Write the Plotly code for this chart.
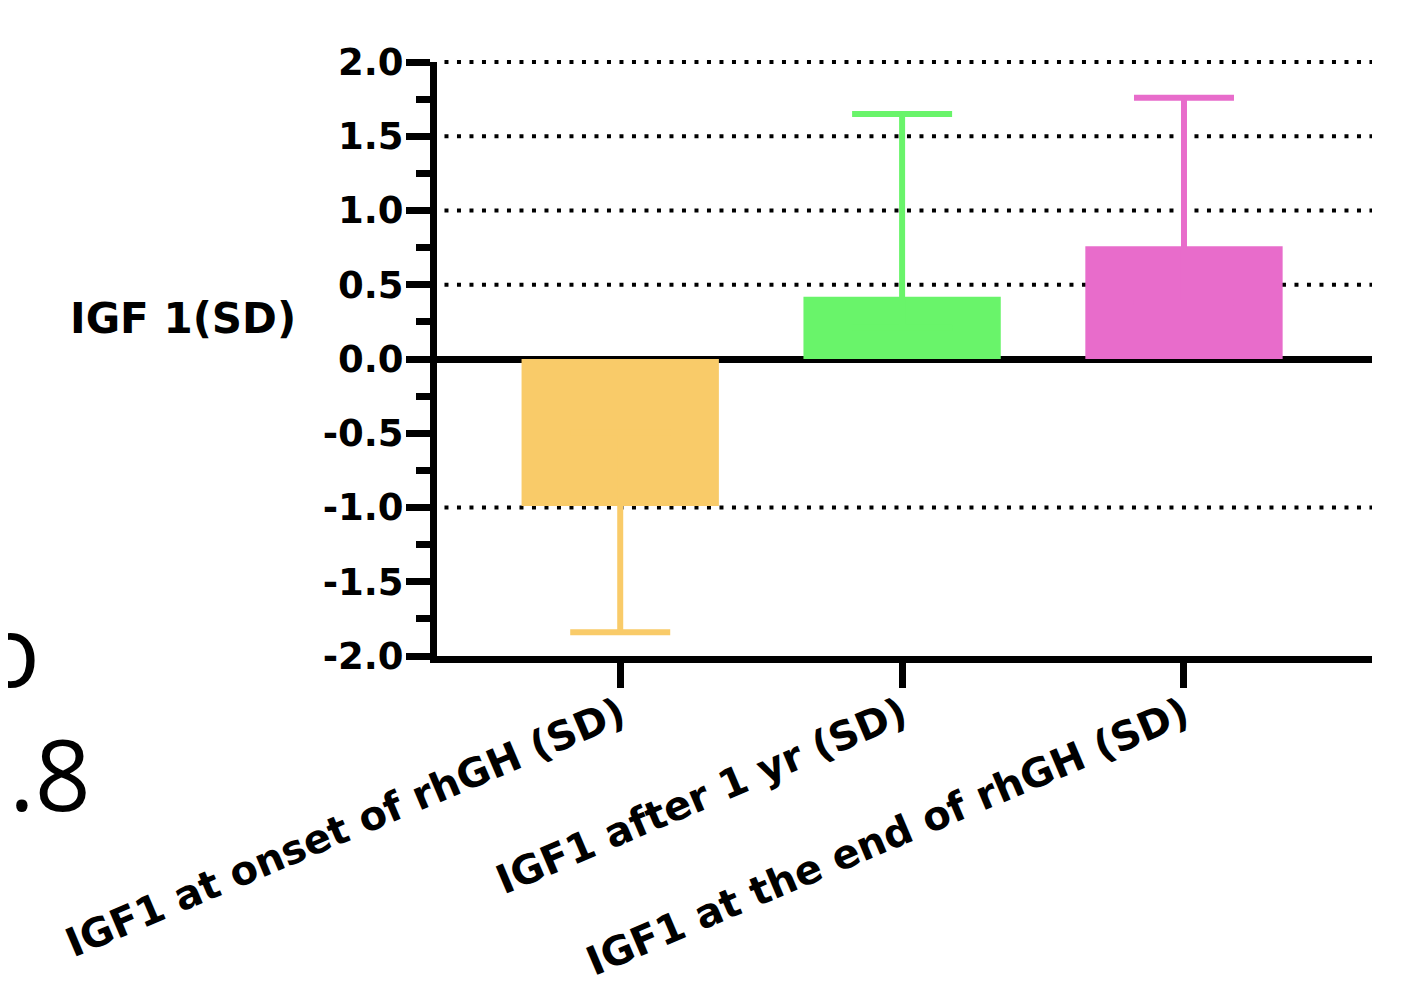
import plotly.graph_objects as go

categories = ["IGF1 at onset of rhGH (SD)", "IGF1 after 1 yr (SD)", "IGF1 at the end of rhGH (SD)"]
means = [-0.99, 0.42, 0.76]
sd = [0.85, 1.23, 1.00]
colors = ["#F9CB69", "#69F46A", "#E86CCB"]
y_ticks = [-2.0, -1.5, -1.0, -0.5, 0.0, 0.5, 1.0, 1.5, 2.0]
grid_values = [2.0, 1.5, 1.0, 0.5, -1.0]
y_label = "IGF 1(SD)"
y_range = [-2.0, 2.0]

W, H = 1404, 983
L, T, R, B = 429, 54, 40, 335
PW, PH = W - L - R, H - T - B

fig = go.Figure()
for i, (c, m, s, col) in enumerate(zip(categories, means, sd, colors)):
    up = s if m >= 0 else abs(m) / 2
    down = s if m < 0 else abs(m) / 2
    fig.add_trace(go.Bar(
        x=[c], y=[m], width=0.70,
        marker=dict(color=col, line=dict(width=0)),
        error_y=dict(type="data", symmetric=False, array=[up], arrayminus=[down],
                     color=col, thickness=6, width=50),
        showlegend=False,
    ))

for g in grid_values:
    yp = (g - y_range[0]) / (y_range[1] - y_range[0])
    fig.add_shape(type="line", xref="paper", yref="paper", x0=0.008, x1=1, y0=yp, y1=yp,
                  line=dict(color="black", width=4, dash="4px,8.5px"), layer="below")

FONT = "DejaVu Sans"
fig.update_layout(
    width=W, height=H,
    margin=dict(l=L, r=R, t=T, b=B, autoexpand=False),
    plot_bgcolor="white", paper_bgcolor="white",
    bargap=0.3,
)
fig.update_xaxes(
    range=[-0.65, 2.667], showline=True, linewidth=7, linecolor="black",
    ticks="outside", ticklen=25, tickwidth=7, tickcolor="black",
    tickangle=-23, showgrid=False, zeroline=False, automargin=False,
    ticklabelstandoff=-12,
    tickfont=dict(family=FONT, size=40, color="black", weight="bold"),
)
fig.update_yaxes(
    range=y_range, tickvals=y_ticks, ticktext=[f"{v:.1f}" for v in y_ticks],
    showline=True, linewidth=7, linecolor="black", automargin=False,
    ticks="outside", ticklen=24, tickwidth=7, tickcolor="black",
    ticklabelstandoff=-5,
    minor=dict(dtick=0.25, tick0=0, ticks="outside", ticklen=14, tickwidth=7, tickcolor="black", showgrid=False),
    showgrid=False, zeroline=True, zerolinecolor="black", zerolinewidth=7,
    tickfont=dict(family=FONT, size=37, color="black", weight="bold"),
)

def px(xf):
    return (xf - L) / PW

def py(yf):
    return (T + PH - yf) / PH

fig.add_annotation(text=y_label, xref="paper", yref="paper", x=px(290), y=py(310),
                   xanchor="right", yanchor="middle", showarrow=False,
                   font=dict(family=FONT, size=42, color="black", weight="bold"))
fig.add_annotation(text="o", xref="paper", yref="paper", x=px(34), y=py(641),
                   xanchor="right", yanchor="middle", showarrow=False,
                   font=dict(family="Open Sans", size=98, color="black"))
fig.add_annotation(text="0.8", xref="paper", yref="paper", x=px(85), y=py(765),
                   xanchor="right", yanchor="middle", showarrow=False,
                   font=dict(family="Open Sans", size=98, color="black"))

fig.write_html("out.html")
